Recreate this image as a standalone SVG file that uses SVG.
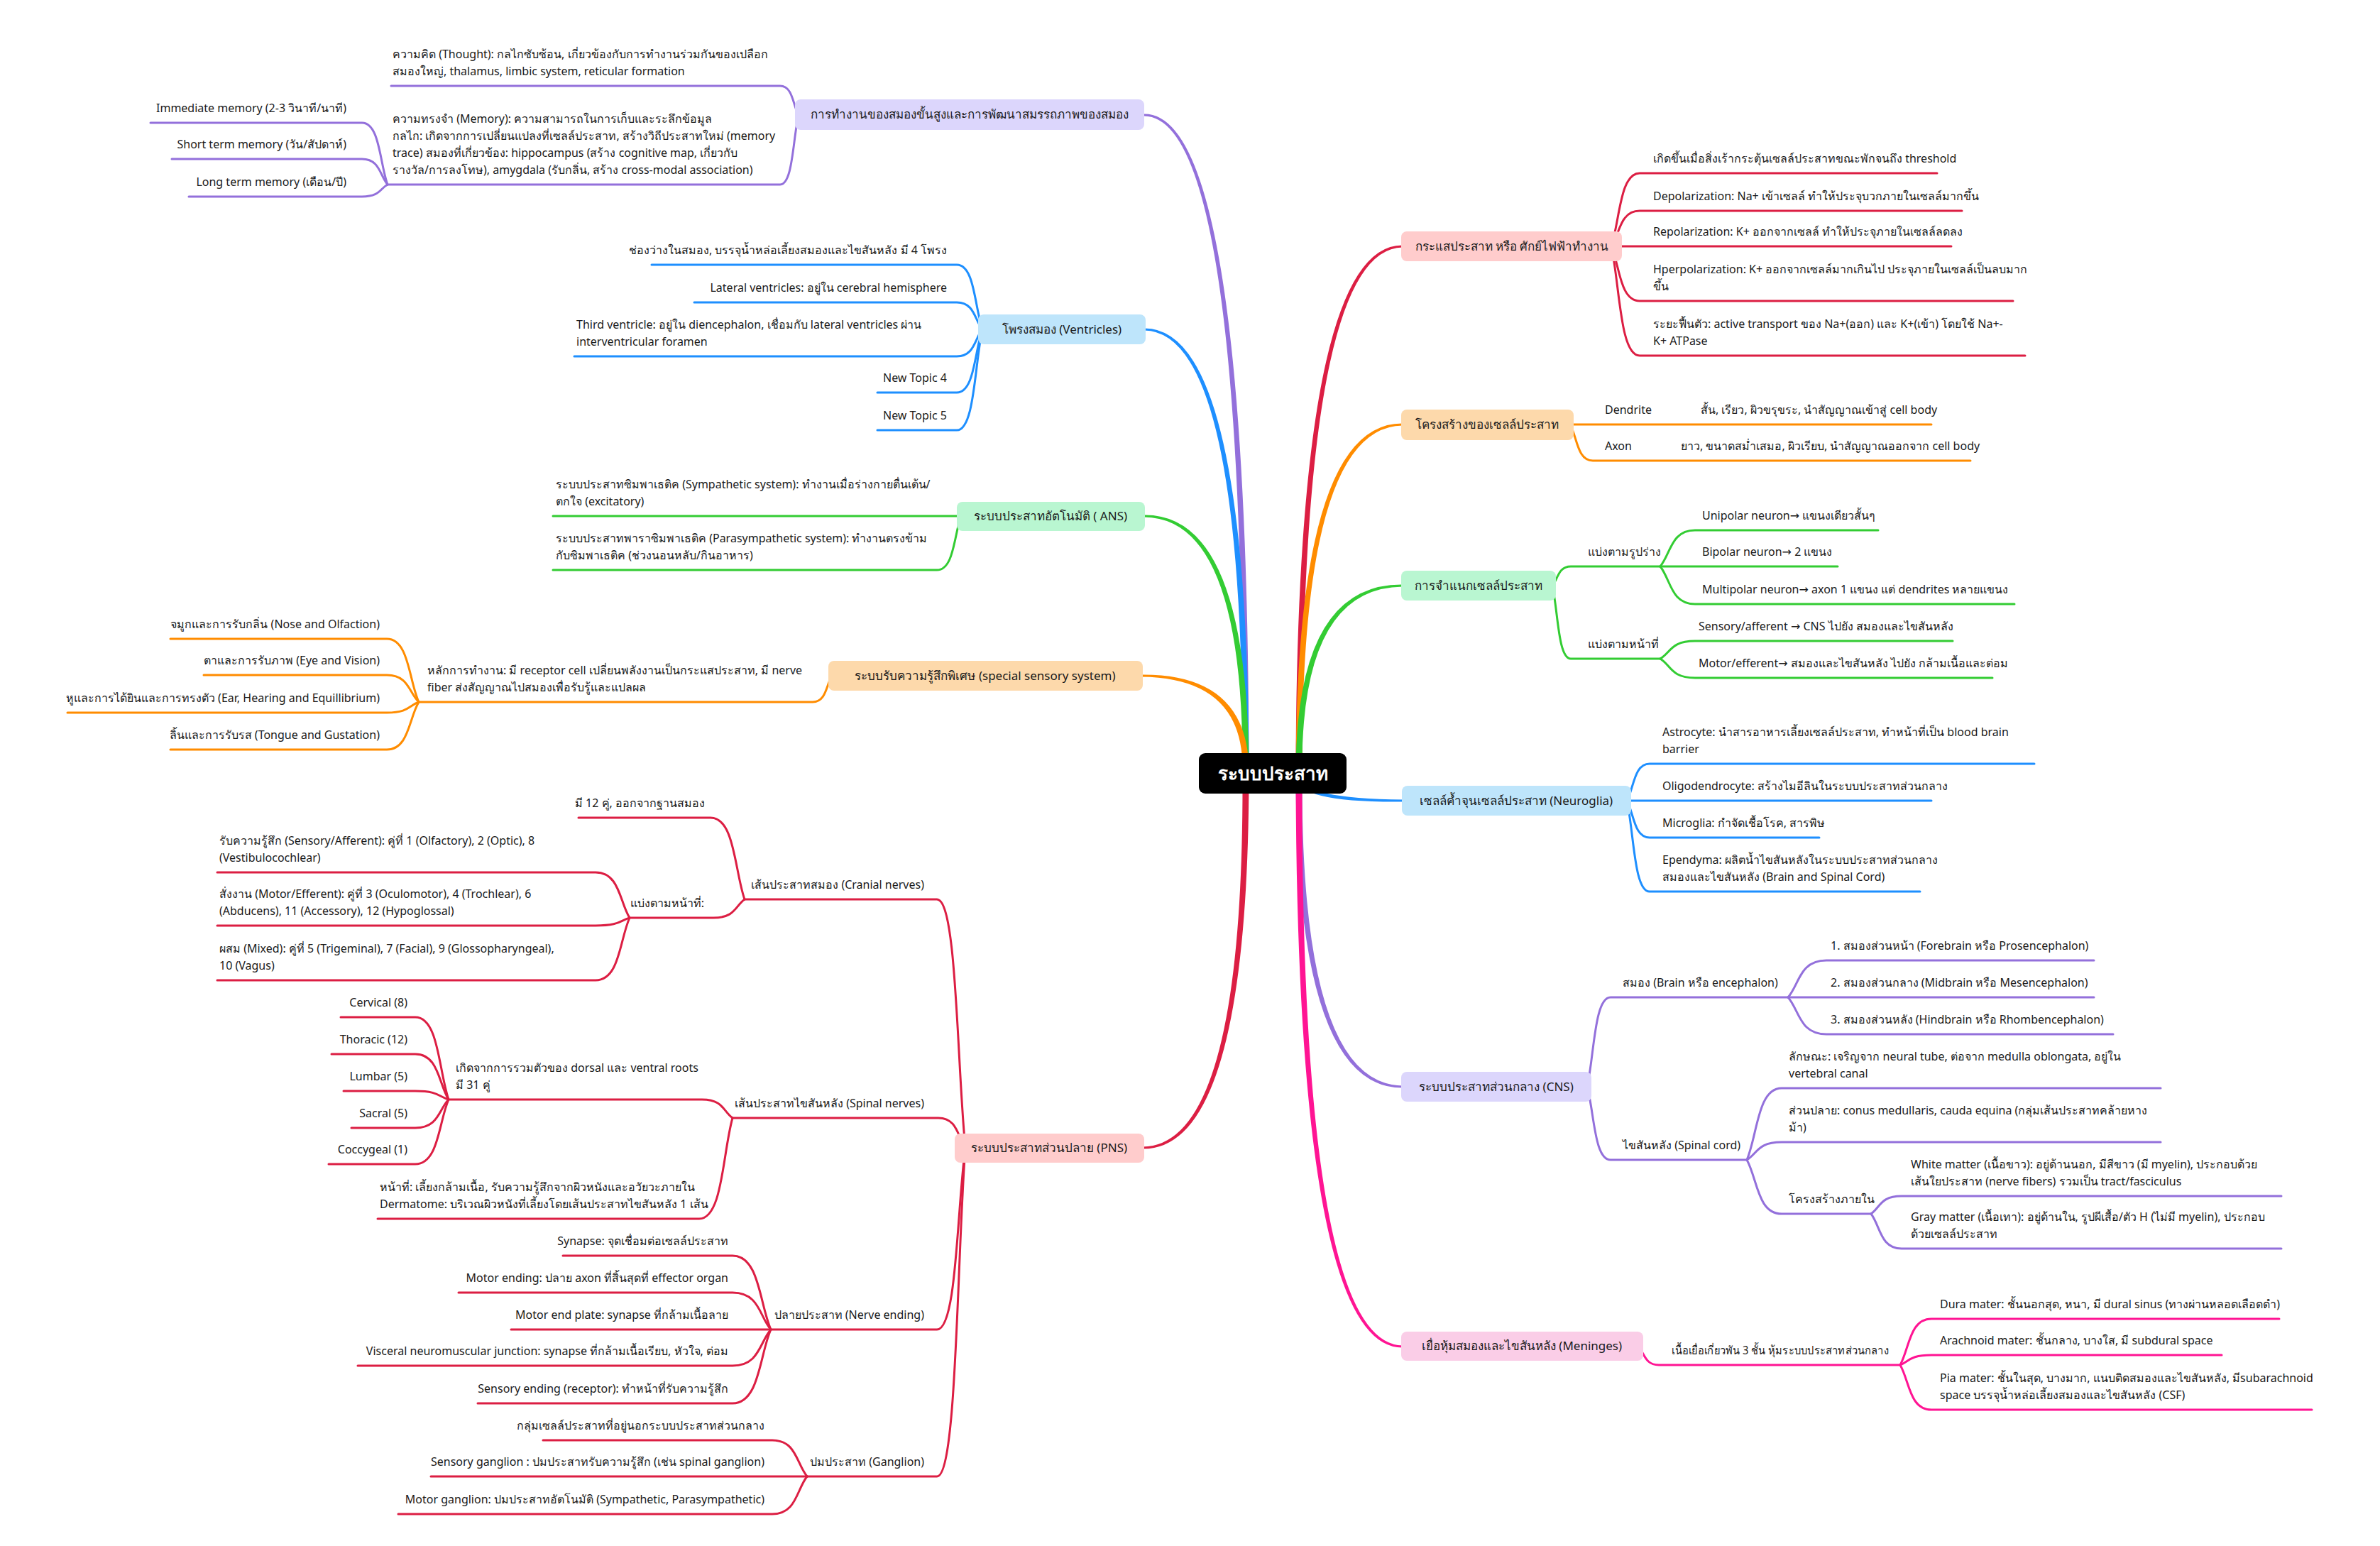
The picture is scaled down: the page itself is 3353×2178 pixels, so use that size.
<svg xmlns="http://www.w3.org/2000/svg" width="3353" height="2178" viewBox="0 0 3353 2178">
<style>
text{font-family:"Noto Sans","DejaVu Sans",sans-serif;font-size:16px;fill:#1a1a1a}
.e{text-anchor:end}
.b{font-size:17px;text-anchor:middle}
.c{font-size:26px;font-weight:bold;fill:#fff;text-anchor:middle}
path{fill:none;stroke-linecap:round;stroke-linejoin:round}
.k path{stroke-width:3}
.M path{stroke:none}
.red{stroke:#DC1E43}.ora{stroke:#FF8C00}.grn{stroke:#33CC33}.blu{stroke:#1E8FFF}.pur{stroke:#9370DB}.pnk{stroke:#FF1493}
.M .red{fill:#DC1E43}.M .ora{fill:#FF8C00}.M .grn{fill:#33CC33}.M .blu{fill:#1E8FFF}.M .pur{fill:#9370DB}.M .pnk{fill:#FF1493}
</style>
<rect width="3353" height="2178" fill="#fff"/>
<g id="connectors">
<g class="M">
<path class="pur" d="M1759.5 1085 Q1758 159 1612 160.5 L1612 163.5 Q1752 165 1750.5 1085 Z"/>
<path class="blu" d="M1759.5 1085 Q1758 461 1612 462.5 L1612 465.5 Q1752 467 1750.5 1085 Z"/>
<path class="grn" d="M1759.5 1085 Q1758 724 1612 725.5 L1612 728.5 Q1752 730 1750.5 1085 Z"/>
<path class="ora" d="M1759.5 1085 Q1758 949 1608 950.5 L1608 953.5 Q1752 955 1750.5 1085 Z"/>
<path class="red" d="M1759.5 1095 Q1758 1620 1610 1618.5 L1610 1615.5 Q1752 1614 1750.5 1095 Z"/>
<path class="red" d="M1825.5 1085 Q1827 344 1976 345.5 L1976 348.5 Q1833 350 1834.5 1085 Z"/>
<path class="ora" d="M1825.5 1085 Q1827 595 1976 596.5 L1976 599.5 Q1833 601 1834.5 1085 Z"/>
<path class="grn" d="M1825.5 1085 Q1827 822 1976 823.5 L1976 826.5 Q1833 828 1834.5 1085 Z"/>
<path class="blu" d="M1825.5 1095 Q1827 1131 1977 1129.5 L1977 1126.5 Q1833 1125 1834.5 1095 Z"/>
<path class="pur" d="M1825.5 1095 Q1827 1534 1976 1532.5 L1976 1529.5 Q1833 1528 1834.5 1095 Z"/>
<path class="pnk" d="M1825.5 1095 Q1827 1900 1976 1898.5 L1976 1895.5 Q1833 1894 1834.5 1095 Z"/>
</g>
<g class="k">
<path class="pur" d="M1125 162 C1117 148 1117 121 1099 121 H551"/>
<path class="pur" d="M1125 162 C1117 196 1117 260 1099 260 H546"/>
<path class="pur" d="M546 260 C535 230 535 173 510 173 H212"/>
<path class="pur" d="M546 260 C535 247 535 224 510 224 H242"/>
<path class="pur" d="M546 260 C535 266 535 277 510 277 H266"/>
<path class="blu" d="M1384 464 C1373 432 1373 373 1348 373 H918"/>
<path class="blu" d="M1384 464 C1373 451 1373 426 1348 426 H978"/>
<path class="blu" d="M1384 464 C1373 477 1373 502 1348 502 H809"/>
<path class="blu" d="M1384 464 C1373 495 1373 553 1348 553 H1236"/>
<path class="blu" d="M1384 464 C1373 514 1373 606 1348 606 H1236"/>
<path class="grn" d="M1354 727 H779"/>
<path class="grn" d="M1354 727 C1344 754 1344 803 1320 803 H779"/>
<path class="ora" d="M1172 952 C1164 965 1164 989 1145 989 H590"/>
<path class="ora" d="M590 989 C576 958 576 900 545 900 H240"/>
<path class="ora" d="M590 989 C576 976 576 951 545 951 H287"/>
<path class="ora" d="M590 989 C576 994 576 1004 545 1004 H95"/>
<path class="ora" d="M590 989 C576 1012 576 1056 545 1056 H240"/>
<path class="red" d="M1360 1617 C1348 1494 1348 1267 1320 1267 H1049"/>
<path class="red" d="M1360 1617 C1349 1602 1349 1575 1322 1575 H1032"/>
<path class="red" d="M1360 1617 C1348 1707 1348 1873 1320 1873 H1086"/>
<path class="red" d="M1360 1617 C1348 1779 1348 2080 1320 2080 H1137"/>
<path class="red" d="M1049 1267 C1035 1227 1035 1152 1001 1152 H815"/>
<path class="red" d="M1049 1267 C1036 1276 1036 1293 1005 1293 H887"/>
<path class="red" d="M887 1293 C873 1271 873 1229 839 1229 H306"/>
<path class="red" d="M887 1293 C873 1297 873 1304 839 1304 H306"/>
<path class="red" d="M887 1293 C873 1324 873 1381 839 1381 H306"/>
<path class="red" d="M1032 1575 C1019 1566 1019 1549 989 1549 H632"/>
<path class="red" d="M1032 1575 C1018 1625 1018 1717 985 1717 H532"/>
<path class="red" d="M632 1549 C618 1508 618 1433 585 1433 H480"/>
<path class="red" d="M632 1549 C618 1527 618 1485 585 1485 H467"/>
<path class="red" d="M632 1549 C618 1545 618 1537 585 1537 H484"/>
<path class="red" d="M632 1549 C618 1563 618 1589 585 1589 H495"/>
<path class="red" d="M632 1549 C618 1581 618 1640 585 1640 H463"/>
<path class="red" d="M1086 1873 C1070 1837 1070 1769 1032 1769 H793"/>
<path class="red" d="M1086 1873 C1070 1855 1070 1821 1032 1821 H646"/>
<path class="red" d="M1086 1873 H720"/>
<path class="red" d="M1086 1873 C1070 1891 1070 1924 1032 1924 H504"/>
<path class="red" d="M1086 1873 C1070 1909 1070 1977 1032 1977 H673"/>
<path class="red" d="M1137 2080 C1122 2062 1122 2029 1088 2029 H765"/>
<path class="red" d="M1137 2080 H607"/>
<path class="red" d="M1137 2080 C1122 2099 1122 2133 1088 2133 H561"/>
<path class="red" d="M2270 347 C2282 311 2282 244 2310 244 H2729"/>
<path class="red" d="M2270 347 C2282 330 2282 297 2310 297 H2764"/>
<path class="red" d="M2270 347 H2749"/>
<path class="red" d="M2270 347 C2282 374 2282 424 2310 424 H2836"/>
<path class="red" d="M2270 347 C2282 401 2282 501 2310 501 H2853"/>
<path class="ora" d="M2212 598 H2721"/>
<path class="ora" d="M2212 598 C2222 616 2222 649 2244 649 H2776"/>
<path class="grn" d="M2187 825 C2195 816 2195 798 2213 798 H2339"/>
<path class="grn" d="M2187 825 C2195 861 2195 928 2213 928 H2339"/>
<path class="grn" d="M2339 798 C2354 780 2354 747 2388 747 H2646"/>
<path class="grn" d="M2339 798 H2589"/>
<path class="grn" d="M2339 798 C2354 817 2354 851 2388 851 H2838"/>
<path class="grn" d="M2339 928 C2354 919 2354 903 2388 903 H2751"/>
<path class="grn" d="M2339 928 C2354 937 2354 955 2388 955 H2807"/>
<path class="blu" d="M2292 1128 C2302 1110 2302 1076 2324 1076 H2866"/>
<path class="blu" d="M2292 1128 H2721"/>
<path class="blu" d="M2292 1128 C2302 1146 2302 1180 2324 1180 H2563"/>
<path class="blu" d="M2292 1128 C2302 1173 2302 1256 2324 1256 H2705"/>
<path class="pur" d="M2236 1531 C2246 1487 2246 1405 2269 1405 H2519"/>
<path class="pur" d="M2236 1531 C2246 1567 2246 1634 2269 1634 H2461"/>
<path class="pur" d="M2519 1405 C2535 1387 2535 1353 2573 1353 H2950"/>
<path class="pur" d="M2519 1405 H2950"/>
<path class="pur" d="M2519 1405 C2535 1423 2535 1457 2573 1457 H2977"/>
<path class="pur" d="M2461 1634 C2476 1599 2476 1533 2510 1533 H3044"/>
<path class="pur" d="M2461 1634 C2476 1625 2476 1609 2510 1609 H3044"/>
<path class="pur" d="M2461 1634 C2476 1661 2476 1710 2510 1710 H2636"/>
<path class="pur" d="M2636 1710 C2649 1701 2649 1685 2679 1685 H3214"/>
<path class="pur" d="M2636 1710 C2649 1727 2649 1759 2679 1759 H3214"/>
<path class="pnk" d="M2308 1897 C2317 1906 2317 1923 2337 1923 H2677"/>
<path class="pnk" d="M2677 1923 C2690 1900 2690 1858 2721 1858 H3211"/>
<path class="pnk" d="M2677 1923 C2690 1918 2690 1909 2721 1909 H3130"/>
<path class="pnk" d="M2677 1923 C2690 1945 2690 1986 2721 1986 H3257"/>
</g>
</g>

<g id="root"><rect x="1689" y="1061" width="208" height="57" rx="9" fill="#000"/><text class="c" x="1793" y="1099">ระบบประสาท</text></g>

<g id="L1"><rect x="1120" y="140" width="492" height="43" rx="8" fill="#DCD6FC"/><text class="b" x="1366" y="167">การทำงานของสมองขั้นสูงและการพัฒนาสมรรถภาพของสมอง</text></g>
<g id="L1-thought"><text x="553" y="82">ความคิด (Thought): กลไกซับซ้อน, เกี่ยวข้องกับการทำงานร่วมกันของเปลือก</text><text x="553" y="106">สมองใหญ่, thalamus, limbic system, reticular formation</text></g>
<g id="L1-memory"><text x="553" y="173">ความทรงจำ (Memory): ความสามารถในการเก็บและระลึกข้อมูล</text><text x="553" y="197">กลไก: เกิดจากการเปลี่ยนแปลงที่เซลล์ประสาท, สร้างวิถีประสาทใหม่ (memory</text><text x="553" y="221">trace) สมองที่เกี่ยวข้อง: hippocampus (สร้าง cognitive map, เกี่ยวกับ</text><text x="553" y="245">รางวัล/การลงโทษ), amygdala (รับกลิ่น, สร้าง cross-modal association)</text></g>
<g id="L1-m1"><text class="e" x="488" y="158">Immediate memory (2-3 วินาที/นาที)</text></g>
<g id="L1-m2"><text class="e" x="488" y="209">Short term memory (วัน/สัปดาห์)</text></g>
<g id="L1-m3"><text class="e" x="488" y="262">Long term memory (เดือน/ปี)</text></g>

<g id="L2"><rect x="1378" y="443" width="236" height="42" rx="8" fill="#BEE5FB"/><text class="b" x="1496" y="470">โพรงสมอง (Ventricles)</text></g>
<g id="L2-a"><text class="e" x="1334" y="358">ช่องว่างในสมอง, บรรจุน้ำหล่อเลี้ยงสมองและไขสันหลัง มี 4 โพรง</text></g>
<g id="L2-b"><text class="e" x="1334" y="411">Lateral ventricles: อยู่ใน cerebral hemisphere</text></g>
<g id="L2-c"><text x="812" y="463">Third ventricle: อยู่ใน diencephalon, เชื่อมกับ lateral ventricles ผ่าน</text><text x="812" y="487">interventricular foramen</text></g>
<g id="L2-d"><text class="e" x="1334" y="538">New Topic 4</text></g>
<g id="L2-e"><text class="e" x="1334" y="591">New Topic 5</text></g>

<g id="L3"><rect x="1348" y="707" width="265" height="41" rx="8" fill="#B9F6D1"/><text class="b" x="1480" y="733">ระบบประสาทอัตโนมัติ ( ANS)</text></g>
<g id="L3-a"><text x="783" y="688">ระบบประสาทซิมพาเธติค (Sympathetic system): ทำงานเมื่อร่างกายตื่นเต้น/</text><text x="783" y="712">ตกใจ (excitatory)</text></g>
<g id="L3-b"><text x="783" y="764">ระบบประสาทพาราซิมพาเธติค (Parasympathetic system): ทำงานตรงข้าม</text><text x="783" y="788">กับซิมพาเธติค (ช่วงนอนหลับ/กินอาหาร)</text></g>

<g id="L4"><rect x="1167" y="931" width="443" height="42" rx="8" fill="#FDD9AB"/><text class="b" x="1388" y="958">ระบบรับความรู้สึกพิเศษ (special sensory system)</text></g>
<g id="L4-hub"><text x="602" y="950">หลักการทำงาน: มี receptor cell เปลี่ยนพลังงานเป็นกระแสประสาท, มี nerve</text><text x="602" y="974">fiber ส่งสัญญาณไปสมองเพื่อรับรู้และแปลผล</text></g>
<g id="L4-a"><text class="e" x="535" y="885">จมูกและการรับกลิ่น (Nose and Olfaction)</text></g>
<g id="L4-b"><text class="e" x="535" y="936">ตาและการรับภาพ (Eye and Vision)</text></g>
<g id="L4-c"><text class="e" x="535" y="989">หูและการได้ยินและการทรงตัว (Ear, Hearing and Equillibrium)</text></g>
<g id="L4-d"><text class="e" x="535" y="1041">ลิ้นและการรับรส (Tongue and Gustation)</text></g>

<g id="L5"><rect x="1345" y="1597" width="267" height="41" rx="8" fill="#FFCCCC"/><text class="b" x="1478" y="1623">ระบบประสาทส่วนปลาย (PNS)</text></g>
<g id="L5-cranial"><text class="e" x="1302" y="1252">เส้นประสาทสมอง (Cranial nerves)</text></g>
<g id="L5-c1"><text class="e" x="993" y="1137">มี 12 คู่, ออกจากฐานสมอง</text></g>
<g id="L5-c2"><text class="e" x="992" y="1278">แบ่งตามหน้าที่:</text></g>
<g id="L5-c2a"><text x="309" y="1190">รับความรู้สึก (Sensory/Afferent): คู่ที่ 1 (Olfactory), 2 (Optic), 8</text><text x="309" y="1214">(Vestibulocochlear)</text></g>
<g id="L5-c2b"><text x="309" y="1265">สั่งงาน (Motor/Efferent): คู่ที่ 3 (Oculomotor), 4 (Trochlear), 6</text><text x="309" y="1289">(Abducens), 11 (Accessory), 12 (Hypoglossal)</text></g>
<g id="L5-c2c"><text x="309" y="1342">ผสม (Mixed): คู่ที่ 5 (Trigeminal), 7 (Facial), 9 (Glossopharyngeal),</text><text x="309" y="1366">10 (Vagus)</text></g>
<g id="L5-spinal"><text class="e" x="1302" y="1560">เส้นประสาทไขสันหลัง (Spinal nerves)</text></g>
<g id="L5-s1"><text x="642" y="1510">เกิดจากการรวมตัวของ dorsal และ ventral roots</text><text x="642" y="1534">มี 31 คู่</text></g>
<g id="L5-s1a"><text class="e" x="574" y="1418">Cervical (8)</text></g>
<g id="L5-s1b"><text class="e" x="574" y="1470">Thoracic (12)</text></g>
<g id="L5-s1c"><text class="e" x="574" y="1522">Lumbar (5)</text></g>
<g id="L5-s1d"><text class="e" x="574" y="1574">Sacral (5)</text></g>
<g id="L5-s1e"><text class="e" x="574" y="1625">Coccygeal (1)</text></g>
<g id="L5-s2"><text x="535" y="1678">หน้าที่: เลี้ยงกล้ามเนื้อ, รับความรู้สึกจากผิวหนังและอวัยวะภายใน</text><text x="535" y="1702">Dermatome: บริเวณผิวหนังที่เลี้ยงโดยเส้นประสาทไขสันหลัง 1 เส้น</text></g>
<g id="L5-ending"><text class="e" x="1302" y="1858">ปลายประสาท (Nerve ending)</text></g>
<g id="L5-e1"><text class="e" x="1026" y="1754">Synapse: จุดเชื่อมต่อเซลล์ประสาท</text></g>
<g id="L5-e2"><text class="e" x="1026" y="1806">Motor ending: ปลาย axon ที่สิ้นสุดที่ effector organ</text></g>
<g id="L5-e3"><text class="e" x="1026" y="1858">Motor end plate: synapse ที่กล้ามเนื้อลาย</text></g>
<g id="L5-e4"><text class="e" x="1026" y="1909">Visceral neuromuscular junction: synapse ที่กล้ามเนื้อเรียบ, หัวใจ, ต่อม</text></g>
<g id="L5-e5"><text class="e" x="1026" y="1962">Sensory ending (receptor): ทำหน้าที่รับความรู้สึก</text></g>
<g id="L5-ganglion"><text class="e" x="1302" y="2065">ปมประสาท (Ganglion)</text></g>
<g id="L5-g1"><text class="e" x="1077" y="2014">กลุ่มเซลล์ประสาทที่อยู่นอกระบบประสาทส่วนกลาง</text></g>
<g id="L5-g2"><text class="e" x="1077" y="2065">Sensory ganglion : ปมประสาทรับความรู้สึก (เช่น spinal ganglion)</text></g>
<g id="L5-g3"><text class="e" x="1077" y="2118">Motor ganglion: ปมประสาทอัตโนมัติ (Sympathetic, Parasympathetic)</text></g>

<g id="R1"><rect x="1974" y="326" width="311" height="42" rx="8" fill="#FFCCCC"/><text class="b" x="2130" y="353">กระแสประสาท หรือ ศักย์ไฟฟ้าทำงาน</text></g>
<g id="R1-a"><text x="2329" y="229">เกิดขึ้นเมื่อสิ่งเร้ากระตุ้นเซลล์ประสาทขณะพักจนถึง threshold</text></g>
<g id="R1-b"><text x="2329" y="282">Depolarization: Na+ เข้าเซลล์ ทำให้ประจุบวกภายในเซลล์มากขึ้น</text></g>
<g id="R1-c"><text x="2329" y="332">Repolarization: K+ ออกจากเซลล์ ทำให้ประจุภายในเซลล์ลดลง</text></g>
<g id="R1-d"><text x="2329" y="385">Hperpolarization: K+ ออกจากเซลล์มากเกินไป ประจุภายในเซลล์เป็นลบมาก</text><text x="2329" y="409">ขึ้น</text></g>
<g id="R1-e"><text x="2329" y="462">ระยะฟื้นตัว: active transport  ของ Na+(ออก) และ K+(เข้า) โดยใช้ Na+-</text><text x="2329" y="486">K+ ATPase</text></g>

<g id="R2"><rect x="1974" y="577" width="243" height="43" rx="8" fill="#FDD9AB"/><text class="b" x="2095" y="604">โครงสร้างของเซลล์ประสาท</text></g>
<g id="R2-dendrite"><text x="2261" y="583">Dendrite</text></g>
<g id="R2-dendrite-d"><text x="2396" y="583">สั้น, เรียว, ผิวขรุขระ, นำสัญญาณเข้าสู่ cell body</text></g>
<g id="R2-axon"><text x="2261" y="634">Axon</text></g>
<g id="R2-axon-d"><text x="2368" y="634">ยาว, ขนาดสม่ำเสมอ, ผิวเรียบ, นำสัญญาณออกจาก cell body</text></g>

<g id="R3"><rect x="1974" y="804" width="218" height="42" rx="8" fill="#B9F6D1"/><text class="b" x="2083" y="831">การจำแนกเซลล์ประสาท</text></g>
<g id="R3-shape"><text x="2237" y="783">แบ่งตามรูปร่าง</text></g>
<g id="R3-s1"><text x="2398" y="732">Unipolar neuron→ แขนงเดียวสั้นๆ</text></g>
<g id="R3-s2"><text x="2398" y="783">Bipolar neuron→ 2 แขนง</text></g>
<g id="R3-s3"><text x="2398" y="836">Multipolar neuron→ axon 1 แขนง แต่ dendrites หลายแขนง</text></g>
<g id="R3-func"><text x="2237" y="913">แบ่งตามหน้าที่</text></g>
<g id="R3-f1"><text x="2393" y="888">Sensory/afferent → CNS ไปยัง สมองและไขสันหลัง</text></g>
<g id="R3-f2"><text x="2393" y="940">Motor/efferent→ สมองและไขสันหลัง ไปยัง กล้ามเนื้อและต่อม</text></g>

<g id="R4"><rect x="1975" y="1107" width="323" height="42" rx="8" fill="#BEE5FB"/><text class="b" x="2136" y="1134">เซลล์ค้ำจุนเซลล์ประสาท (Neuroglia)</text></g>
<g id="R4-a"><text x="2342" y="1037">Astrocyte: นำสารอาหารเลี้ยงเซลล์ประสาท, ทำหน้าที่เป็น blood brain</text><text x="2342" y="1061">barrier</text></g>
<g id="R4-b"><text x="2342" y="1113">Oligodendrocyte: สร้างไมอีลินในระบบประสาทส่วนกลาง</text></g>
<g id="R4-c"><text x="2342" y="1165">Microglia: กำจัดเชื้อโรค, สารพิษ</text></g>
<g id="R4-d"><text x="2342" y="1217">Ependyma: ผลิตน้ำไขสันหลังในระบบประสาทส่วนกลาง</text><text x="2342" y="1241">สมองและไขสันหลัง (Brain and Spinal Cord)</text></g>

<g id="R5"><rect x="1974" y="1510" width="268" height="42" rx="8" fill="#DCD6FC"/><text class="b" x="2108" y="1537">ระบบประสาทส่วนกลาง (CNS)</text></g>
<g id="R5-brain"><text x="2286" y="1390">สมอง (Brain หรือ encephalon)</text></g>
<g id="R5-b1"><text x="2579" y="1338">1. สมองส่วนหน้า (Forebrain หรือ Prosencephalon)</text></g>
<g id="R5-b2"><text x="2579" y="1390">2. สมองส่วนกลาง (Midbrain หรือ Mesencephalon)</text></g>
<g id="R5-b3"><text x="2579" y="1442">3. สมองส่วนหลัง (Hindbrain หรือ Rhombencephalon)</text></g>
<g id="R5-cord"><text x="2286" y="1619">ไขสันหลัง (Spinal cord)</text></g>
<g id="R5-c1"><text x="2520" y="1494">ลักษณะ: เจริญจาก neural tube, ต่อจาก medulla oblongata, อยู่ใน</text><text x="2520" y="1518">vertebral canal</text></g>
<g id="R5-c2"><text x="2520" y="1570">ส่วนปลาย: conus medullaris, cauda equina (กลุ่มเส้นประสาทคล้ายหาง</text><text x="2520" y="1594">ม้า)</text></g>
<g id="R5-c3"><text x="2520" y="1695">โครงสร้างภายใน</text></g>
<g id="R5-c3a"><text x="2692" y="1646">White matter (เนื้อขาว): อยู่ด้านนอก, มีสีขาว (มี myelin), ประกอบด้วย</text><text x="2692" y="1670">เส้นใยประสาท (nerve fibers) รวมเป็น tract/fasciculus</text></g>
<g id="R5-c3b"><text x="2692" y="1720">Gray matter (เนื้อเทา): อยู่ด้านใน, รูปผีเสื้อ/ตัว H (ไม่มี myelin), ประกอบ</text><text x="2692" y="1744">ด้วยเซลล์ประสาท</text></g>

<g id="R6"><rect x="1974" y="1876" width="341" height="41" rx="8" fill="#FACDE7"/><text class="b" x="2144" y="1902">เยื่อหุ้มสมองและไขสันหลัง (Meninges)</text></g>
<g id="R6-hub"><text x="2355" y="1908" textLength="306" lengthAdjust="spacingAndGlyphs">เนื้อเยื่อเกี่ยวพัน 3 ชั้น หุ้มระบบประสาทส่วนกลาง</text></g>
<g id="R6-a"><text x="2733" y="1843">Dura mater: ชั้นนอกสุด, หนา, มี dural sinus (ทางผ่านหลอดเลือดดำ)</text></g>
<g id="R6-b"><text x="2733" y="1894">Arachnoid mater: ชั้นกลาง, บางใส, มี subdural space</text></g>
<g id="R6-c"><text x="2733" y="1947">Pia mater: ชั้นในสุด, บางมาก, แนบติดสมองและไขสันหลัง, มีsubarachnoid</text><text x="2733" y="1971">space บรรจุน้ำหล่อเลี้ยงสมองและไขสันหลัง (CSF)</text></g>
</svg>
